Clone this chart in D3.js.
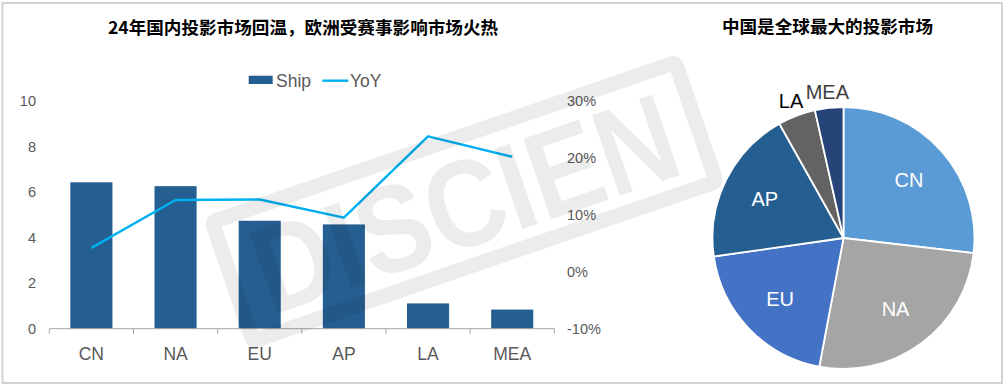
<!DOCTYPE html>
<html>
<head>
<meta charset="utf-8">
<script src="https://cdn.jsdelivr.net/npm/d3@7/dist/d3.min.js"></script>
<style>
  html, body { margin: 0; padding: 0; background: #fff; }
  svg { display: block; }
</style>
</head>
<body>
<svg id="chart" width="1008" height="390"></svg>
<script>
// ---- data ----
const categories = ["CN", "NA", "EU", "AP", "LA", "MEA"];
const shipValues = [6.43, 6.26, 4.74, 4.58, 1.11, 0.84];
const yoyValues = [4.2, 12.6, 12.7, 9.5, 23.8, 20.2];       // percent
const leftTicks = [0, 2, 4, 6, 8, 10];
const rightTicks = [-10, 0, 10, 20, 30];
const pieColors = ["#5B9BD5", "#A5A5A5", "#4472C4", "#255E91", "#636363", "#264478"];
const leftTitle = "24年国内投影市场回温，欧洲受赛事影响市场火热";
const rightTitle = "中国是全球最大的投影市场";
const legendNames = ["Ship", "YoY"];

const latin = "'Liberation Sans', Arial, sans-serif";
const cjk = "'Noto Sans CJK SC', 'Noto Sans', sans-serif";
const svg = d3.select("#chart");

// outer frame
svg.append("rect").attr("x", 2.5).attr("y", 3).attr("width", 999.5).attr("height", 380)
  .attr("fill", "#fff").attr("stroke", "#d3d3d3").attr("stroke-width", 2);

// ---- combo chart ----
const x = d3.scaleBand().domain(categories).range([49.3, 554.3]).paddingInner(0.5).paddingOuter(0.25);
const yL = d3.scaleLinear().domain([0, 10]).range([328.7, 101]);
const yR = d3.scaleLinear().domain([-10, 30]).range([328.7, 101]);

svg.append("text").attr("x", 303).attr("y", 33.5).attr("text-anchor", "middle")
  .attr("font-family", cjk).attr("font-weight", "bold").attr("font-size", 17.6)
  .attr("fill", "#000").text(leftTitle);

// left tick labels
svg.append("g").selectAll("text").data(leftTicks).join("text")
  .attr("x", 36).attr("y", d => yL(d)).attr("dy", "0.36em").attr("text-anchor", "end")
  .attr("font-family", latin).attr("font-size", 14.5).attr("fill", "#595959")
  .text(d => d3.format("d")(d));

// right tick labels
svg.append("g").selectAll("text").data(rightTicks).join("text")
  .attr("x", 567).attr("y", d => yR(d)).attr("dy", "0.36em").attr("text-anchor", "start")
  .attr("font-family", latin).attr("font-size", 14.5).attr("fill", "#595959")
  .text(d => d + "%");

// bars
svg.append("g").selectAll("rect").data(categories).join("rect")
  .attr("x", d => x(d)).attr("width", x.bandwidth())
  .attr("y", (d, i) => yL(shipValues[i])).attr("height", (d, i) => yL(0) - yL(shipValues[i]))
  .attr("fill", "#255E91");

// x axis
const xa = svg.append("g").attr("transform", `translate(0,${yL(0)})`);
xa.append("line").attr("x1", x.range()[0]).attr("x2", x.range()[1])
  .attr("stroke", "#a6a6a6").attr("stroke-width", 1);
const tickXs = d3.range(categories.length + 1).map(i => x.range()[0] + i * x.step());
xa.selectAll("line.tick").data(tickXs).join("line").attr("class", "tick")
  .attr("x1", d => d).attr("x2", d => d).attr("y1", 0).attr("y2", 5)
  .attr("stroke", "#a6a6a6").attr("stroke-width", 1);
xa.selectAll("text").data(categories).join("text")
  .attr("x", d => x(d) + x.bandwidth() / 2).attr("y", 31)
  .attr("text-anchor", "middle").attr("font-family", latin).attr("font-size", 17.5)
  .attr("fill", "#595959").text(d => d);

// YoY line
const line = d3.line().x((d, i) => x(categories[i]) + x.bandwidth() / 2).y(d => yR(d));
svg.append("path").datum(yoyValues).attr("d", line)
  .attr("fill", "none").attr("stroke", "#00B0F0").attr("stroke-width", 2.4)
  .attr("stroke-linejoin", "round");

// legend
const lg = svg.append("g");
lg.append("rect").attr("x", 248.7).attr("y", 75.7).attr("width", 24).attr("height", 8.3).attr("fill", "#255E91");
lg.append("text").attr("x", 276).attr("y", 86.5).attr("font-family", latin).attr("font-size", 17.5)
  .attr("fill", "#595959").text(legendNames[0]);
lg.append("line").attr("x1", 322.3).attr("x2", 348.3).attr("y1", 80.7).attr("y2", 80.7)
  .attr("stroke", "#00B0F0").attr("stroke-width", 2.4);
lg.append("text").attr("x", 350).attr("y", 86.5).attr("font-family", latin).attr("font-size", 17.5)
  .attr("fill", "#595959").text(legendNames[1]);

// ---- pie chart ----
svg.append("text").attr("x", 827.5).attr("y", 33).attr("text-anchor", "middle")
  .attr("font-family", cjk).attr("font-weight", "bold").attr("font-size", 17.6)
  .attr("fill", "#000").text(rightTitle);

const cx = 843.5, cy = 238, r = 131;
const pie = d3.pie().sort(null).value(d => d)(shipValues);
const arc = d3.arc().innerRadius(0).outerRadius(r);
const pg = svg.append("g").attr("transform", `translate(${cx},${cy})`);
pg.selectAll("path").data(pie).join("path")
  .attr("d", arc).attr("fill", (d, i) => pieColors[i])
  .attr("stroke", "#fff").attr("stroke-width", 1.8);

const total = d3.sum(shipValues);
const inArc = d3.arc().innerRadius(r * 0.67).outerRadius(r * 0.67);
const outArc = d3.arc().innerRadius(r * 1.12).outerRadius(r * 1.12);
pg.selectAll("text").data(pie).join("text")
  .attr("transform", d => {
    const small = d.value / total < 0.06;
    const c = (small ? outArc : inArc).centroid(d);
    return `translate(${c[0]},${c[1]})`;
  })
  .attr("dy", "0.36em").attr("text-anchor", "middle")
  .attr("font-family", latin).attr("font-size", 20)
  .attr("fill", (d, i) => d.value / total < 0.06 ? (i === 4 ? "#000" : "#404040") : "#fff")
  .text((d, i) => categories[i]);

// ---- watermark (logo frame + letters) ----
const wm = svg.append("g").attr("transform", "translate(212,222) rotate(-19)")
  .attr("pointer-events", "none");
wm.append("rect").attr("x", 0).attr("y", 0).attr("width", 490).attr("height", 126).attr("rx", 4)
  .attr("fill", "none").attr("stroke", "rgba(0,0,0,0.075)").attr("stroke-width", 15);
wm.append("text").attr("x", 245).attr("y", 108).attr("text-anchor", "middle")
  .attr("font-family", latin).attr("font-weight", "bold").attr("font-size", 124)
  .attr("textLength", 440).attr("lengthAdjust", "spacingAndGlyphs")
  .attr("fill", "rgba(0,0,0,0.075)")
  .text("DISCIEN");
</script>
</body>
</html>
